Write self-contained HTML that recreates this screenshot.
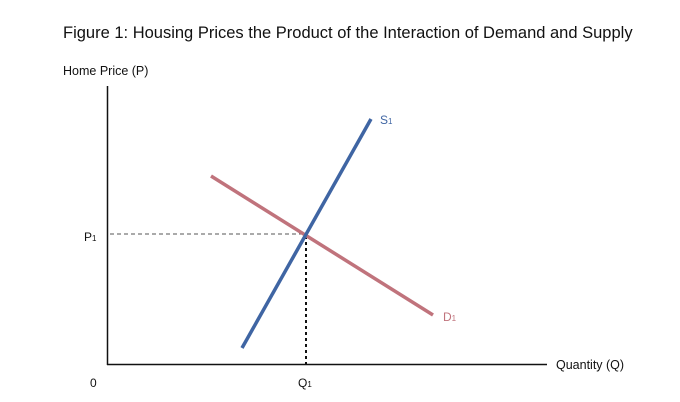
<!DOCTYPE html>
<html><head><meta charset="utf-8"><style>
html,body{margin:0;padding:0;background:#fff;}
svg{display:block;font-family:"Liberation Sans",sans-serif;}
</style></head><body>
<svg width="680" height="402" viewBox="0 0 680 402">
<text x="63" y="38" font-size="16.5" fill="#111">Figure 1: Housing Prices the Product of the Interaction of Demand and Supply</text>
<text x="63" y="75" font-size="12.5" fill="#111">Home Price (P)</text>
<line x1="107.5" y1="86" x2="107.5" y2="365" stroke="#111" stroke-width="1.5"/>
<line x1="107" y1="364.5" x2="547" y2="364.5" stroke="#111" stroke-width="1.5"/>
<line x1="110" y1="234" x2="305" y2="234" stroke="#555" stroke-width="1" stroke-dasharray="4,3"/>
<line x1="306" y1="236" x2="306" y2="364" stroke="#111" stroke-width="2" stroke-dasharray="3,3"/>
<line x1="211" y1="176" x2="433" y2="315" stroke="#c0737c" stroke-width="3.5"/>
<line x1="242" y1="348" x2="371" y2="119" stroke="#3f65a3" stroke-width="3.5"/>
<text x="380" y="124" font-size="12" fill="#3f65a3">S<tspan font-size="8">1</tspan></text>
<text x="443" y="321" font-size="12" fill="#c0737c">D<tspan font-size="8">1</tspan></text>
<text x="84" y="241" font-size="12" fill="#111">P<tspan font-size="8">1</tspan></text>
<text x="298" y="387" font-size="12" fill="#111">Q<tspan font-size="8">1</tspan></text>
<text x="90" y="387" font-size="12" fill="#111">0</text>
<text x="556" y="369" font-size="12.5" fill="#111">Quantity (Q)</text>
</svg>
</body></html>
